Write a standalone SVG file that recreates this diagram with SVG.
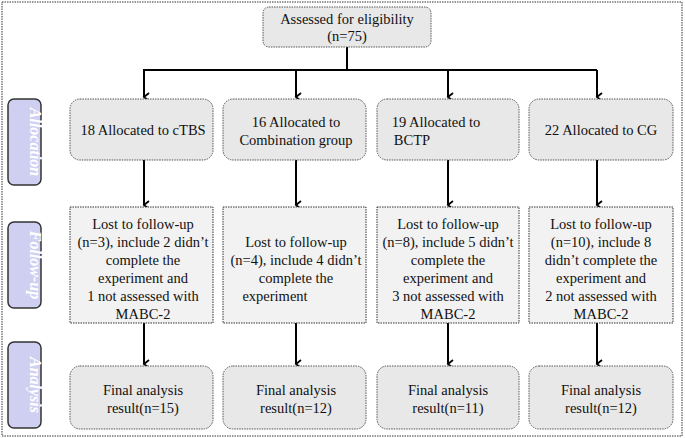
<svg xmlns="http://www.w3.org/2000/svg" width="685" height="438" viewBox="0 0 685 438" font-family="Liberation Serif, DejaVu Serif, serif">
<style>
text{font-family:"Liberation Serif","DejaVu Serif",serif;font-size:14.5px;fill:#111;text-anchor:middle}
.r{fill:#e8e8e8;stroke:#555;stroke-width:1;stroke-dasharray:1.5 1}
.f{fill:#f2f2f2;stroke:#333;stroke-width:1;stroke-dasharray:1.5 1}
.side{fill:#cfcff2;stroke:#333;stroke-width:1.5}
.st{font-style:italic;font-weight:bold;fill:#fff;font-size:16px}
.c{stroke:#000;stroke-width:2;fill:none;marker-end:url(#a)}
</style>
<defs><marker id="a" markerWidth="10" markerHeight="10" refX="5" refY="6" orient="auto" markerUnits="userSpaceOnUse" viewBox="0 0 10 10"><path d="M1,1 L5,6 L9,1" fill="none" stroke="#000" stroke-width="1.8"/></marker></defs>
<rect x="2" y="2" width="680" height="434" fill="#fff" stroke="#333" stroke-dasharray="1.5 1"/>
<g id="side-allocation"><rect class="side" x="8" y="99" width="33" height="86" rx="6"/><text class="st" transform="translate(30,142) rotate(90)">Allocation</text></g>
<g id="side-followup"><rect class="side" x="8" y="222" width="33" height="86" rx="6"/><text class="st" transform="translate(30,265) rotate(90)">Follow-up</text></g>
<g id="side-analysis"><rect class="side" x="8" y="342" width="33" height="86" rx="6"/><text class="st" transform="translate(30,385) rotate(90)">Analysis</text></g>
<g id="connectors">
<path d="M347,47 V70" stroke="#000" stroke-width="2" fill="none"/>
<path d="M143,70 H597" stroke="#000" stroke-width="2" fill="none"/>
<path class="c" d="M144,70 V97"/><path class="c" d="M296,70 V97"/><path class="c" d="M448,70 V97"/><path class="c" d="M597,70 V97"/>
<path class="c" d="M144,160 V205"/><path class="c" d="M296,160 V205"/><path class="c" d="M448,160 V205"/><path class="c" d="M597,160 V205"/>
<path class="c" d="M144,323 V364"/><path class="c" d="M296,323 V364"/><path class="c" d="M448,323 V364"/><path class="c" d="M597,323 V364"/>
</g>
<g id="assessed"><rect class="r" x="263" y="7" width="168" height="40" rx="6"/><text x="347" y="24">Assessed for eligibility</text><text x="347" y="41">(n=75)</text></g>
<g id="alloc1"><rect class="r" x="70" y="99" width="143" height="61" rx="10"/><text x="143" y="135">18 Allocated to cTBS</text></g>
<g id="alloc2"><rect class="r" x="223" y="99" width="143" height="61" rx="10"/><text x="296" y="127">16 Allocated to</text><text x="296" y="145">Combination group</text></g>
<g id="alloc3"><rect class="r" x="377" y="99" width="142" height="61" rx="10"/><text x="436" y="127">19 Allocated to</text><text x="412" y="145">BCTP</text></g>
<g id="alloc4"><rect class="r" x="529" y="99" width="144" height="61" rx="10"/><text x="601" y="135">22 Allocated to CG</text></g>
<g id="fu1"><rect class="f" x="70" y="207" width="143" height="116"/><text x="143" y="229">Lost to follow-up</text><text x="143" y="247">(n=3), include 2 didn’t</text><text x="143" y="265">complete the</text><text x="143" y="283">experiment and</text><text x="143" y="301">1 not assessed with</text><text x="143" y="319">MABC-2</text></g>
<g id="fu2"><rect class="f" x="223" y="207" width="143" height="116"/><text x="296" y="247">Lost to follow-up</text><text x="296" y="265">(n=4), include 4 didn’t</text><text x="296" y="283">complete the</text><text x="275" y="301">experiment</text></g>
<g id="fu3"><rect class="f" x="377" y="207" width="142" height="116"/><text x="448" y="229">Lost to follow-up</text><text x="448" y="247">(n=8), include 5 didn’t</text><text x="448" y="265">complete the</text><text x="448" y="283">experiment and</text><text x="448" y="301">3 not assessed with</text><text x="448" y="319">MABC-2</text></g>
<g id="fu4"><rect class="f" x="529" y="207" width="144" height="116"/><text x="601" y="229">Lost to follow-up</text><text x="601" y="247">(n=10), include 8</text><text x="601" y="265">didn’t complete the</text><text x="601" y="283">experiment and</text><text x="601" y="301">2 not assessed with</text><text x="601" y="319">MABC-2</text></g>
<g id="an1"><rect class="r" x="70" y="366" width="143" height="63" rx="10"/><text x="143" y="395">Final analysis</text><text x="143" y="413">result(n=15)</text></g>
<g id="an2"><rect class="r" x="223" y="366" width="143" height="63" rx="10"/><text x="296" y="395">Final analysis</text><text x="296" y="413">result(n=12)</text></g>
<g id="an3"><rect class="r" x="377" y="366" width="142" height="63" rx="10"/><text x="448" y="395">Final analysis</text><text x="448" y="413">result(n=11)</text></g>
<g id="an4"><rect class="r" x="529" y="366" width="144" height="63" rx="10"/><text x="601" y="395">Final analysis</text><text x="601" y="413">result(n=12)</text></g>
</svg>
